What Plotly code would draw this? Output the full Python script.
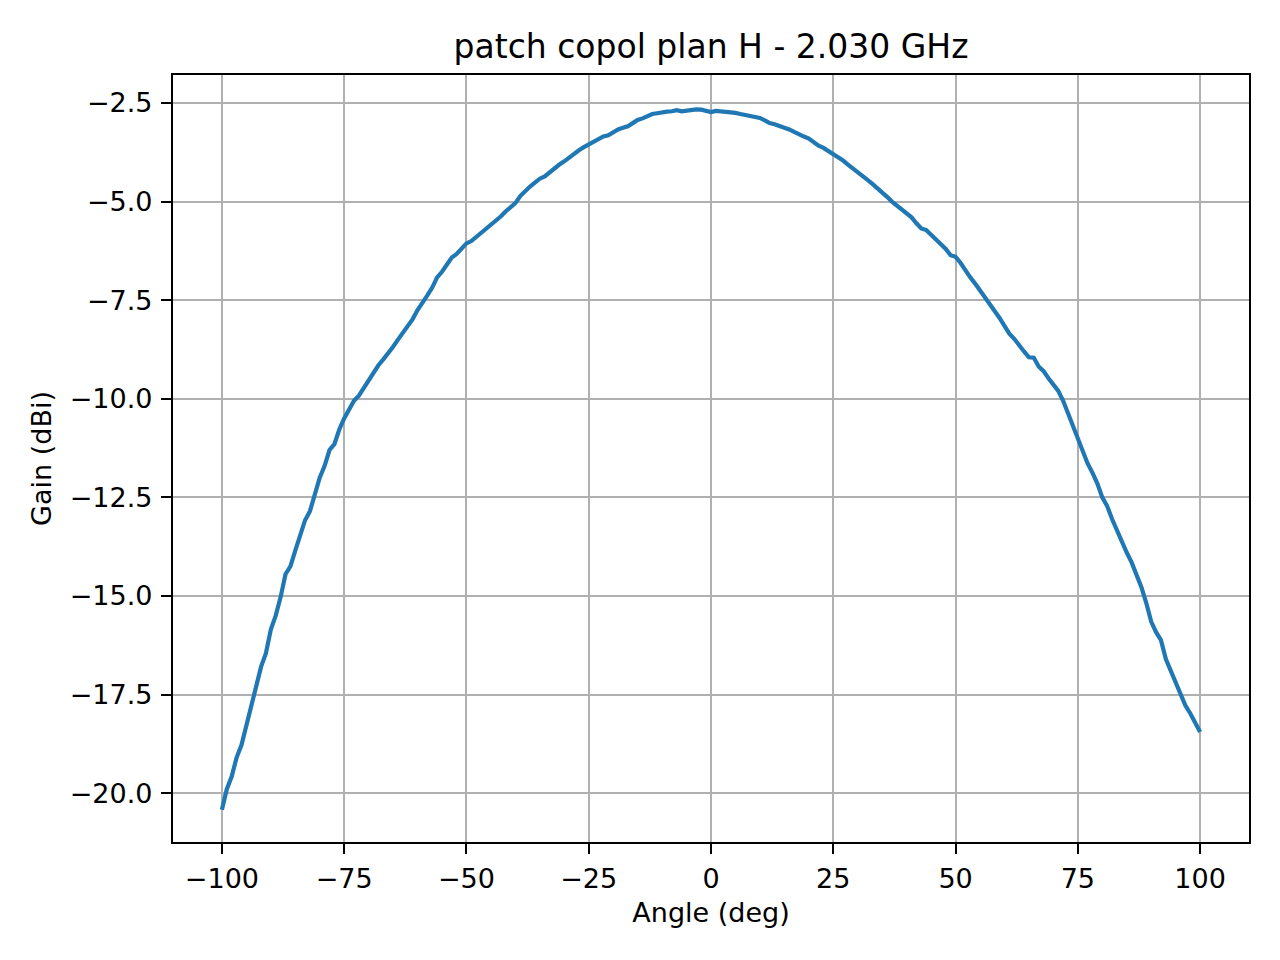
import plotly.graph_objects as go

angles = list(range(-100, 101))

gain = [
    -20.42, -19.90, -19.58, -19.10, -18.78, -18.30, -17.80, -17.28, -16.80, -16.45,
    -15.85, -15.50, -15.03, -14.45, -14.25, -13.85, -13.45, -13.08, -12.85, -12.44,
    -12.00, -11.70, -11.30, -11.15, -10.78, -10.50, -10.28, -10.05, -9.92, -9.72,
    -9.55, -9.35, -9.15, -9.00, -8.85, -8.68, -8.50, -8.33, -8.18, -7.98,
    -7.75, -7.58, -7.38, -7.18, -6.92, -6.78, -6.62, -6.42, -6.33, -6.18,
    -6.06, -6.00, -5.90, -5.78, -5.70, -5.60, -5.50, -5.38, -5.25, -5.13,
    -5.04, -4.86, -4.72, -4.62, -4.52, -4.42, -4.36, -4.25, -4.15, -4.06,
    -3.98, -3.88, -3.80, -3.70, -3.62, -3.55, -3.48, -3.42, -3.35, -3.32,
    -3.24, -3.17, -3.13, -3.09, -3.01, -2.93, -2.89, -2.84, -2.78, -2.76,
    -2.73, -2.72, -2.71, -2.68, -2.71, -2.69, -2.67, -2.66, -2.67, -2.69,
    -2.73,
    -2.70, -2.71, -2.74, -2.74, -2.75, -2.78, -2.80, -2.83, -2.85, -2.88,
    -2.94, -3.01, -3.04, -3.08, -3.13, -3.17, -3.23, -3.30, -3.35, -3.40,
    -3.50, -3.58, -3.64, -3.72, -3.79, -3.86, -3.96, -4.06, -4.15, -4.24,
    -4.33, -4.45, -4.55, -4.65, -4.75, -4.88, -5.00, -5.10, -5.20, -5.33,
    -5.40, -5.55, -5.68, -5.72, -5.84, -5.95, -6.07, -6.20, -6.36, -6.40,
    -6.55, -6.75, -6.92, -7.08, -7.25, -7.43, -7.62, -7.78, -7.95, -8.15,
    -8.35, -8.48, -8.62, -8.80, -8.95, -8.96, -9.18, -9.30, -9.48, -9.65,
    -9.80, -10.05, -10.38, -10.68, -11.05, -11.35, -11.64, -11.88, -12.15, -12.50,
    -12.72, -13.05, -13.35, -13.60, -13.90, -14.15, -14.45, -14.78, -15.18, -15.65,
    -15.92, -16.12, -16.60, -16.88, -17.18, -17.50, -17.78, -17.98, -18.20, -18.45,
]

x_ticks = [-100, -75, -50, -25, 0, 25, 50, 75, 100]
y_ticks = [-20.0, -17.5, -15.0, -12.5, -10.0, -7.5, -5.0, -2.5]

title_text = "patch copol plan H - 2.030 GHz"
x_label = "Angle (deg)"
y_label = "Gain (dBi)"

FONT = "DejaVu Sans"
TICK_SIZE = 27
GRID = "#b0b0b0"

fig = go.Figure()
fig.add_trace(go.Scatter(
    x=angles, y=gain, mode="lines",
    line=dict(color="#1f77b4", width=4.2),
    showlegend=False, hoverinfo="skip",
))

axis_common = dict(
    showline=True, linecolor="black", linewidth=2.2, mirror=True,
    showgrid=True, gridcolor=GRID, gridwidth=2.2,
    zeroline=False,
    ticks="outside", ticklen=10, tickwidth=2.2, tickcolor="black",
    tickfont=dict(family=FONT, size=TICK_SIZE, color="black"),
)

# the page body has an 8px offset, so margins are shifted to compensate
fig.update_layout(
    width=1280, height=960,
    paper_bgcolor="white", plot_bgcolor="white",
    margin=dict(l=165, r=39, t=67, b=126),
    font=dict(family=FONT, color="black"),
    title=dict(
        text=title_text, x=0.5, xref="paper", xanchor="center",
        y=1 - 38 / 960, yref="container", yanchor="middle",
        font=dict(family=FONT, size=33, color="black"),
    ),
    xaxis=dict(
        range=[-110, 110], tickvals=x_ticks,
        ticklabelstandoff=1,
        title=dict(text=x_label, font=dict(family=FONT, size=TICK_SIZE, color="black"), standoff=11),
        **axis_common,
    ),
    yaxis=dict(
        range=[-21.24, -1.79], tickvals=y_ticks, tickformat=".1f",
        ticklabelstandoff=3,
        title=dict(text=y_label, font=dict(family=FONT, size=TICK_SIZE, color="black"), standoff=10),
        **axis_common,
    ),
)

fig.write_html("out.html")
